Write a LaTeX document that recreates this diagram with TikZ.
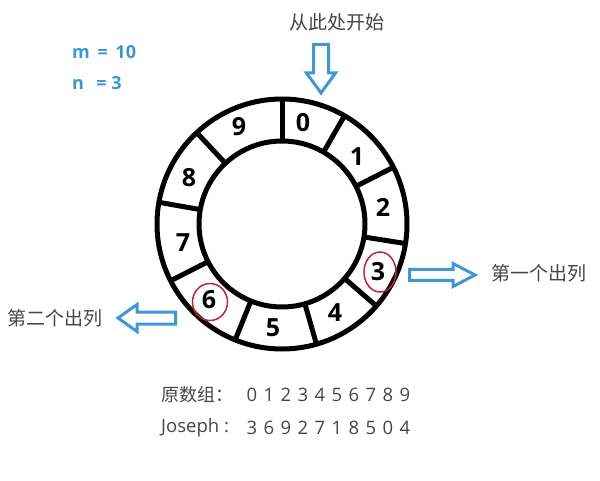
\documentclass[tikz,border=0pt]{standalone}
\usepackage{fontspec}
\setmainfont{Open Sans}
\newfontfamily\cjk{Noto Sans CJK SC}
\definecolor{arrowblue}{RGB}{66,150,212}
\definecolor{textblue}{RGB}{60,150,210}
\definecolor{markred}{RGB}{190,40,50}
\definecolor{labelgray}{RGB}{70,70,70}
\begin{document}
\begin{tikzpicture}[x=1pt,y=1pt,
  ring/.style={line width=5pt, draw=black},
  num/.style={font=\fontsize{25}{25}\selectfont\bfseries, inner sep=0pt},
  hollow/.style={draw=arrowblue, line width=3pt, line join=miter, fill=white},
  markring/.style={draw=markred, line width=1.5pt},
  cjklabel/.style={font=\cjk\fontsize{19}{19}\selectfont, text=labelgray, inner sep=0pt},
  param/.style={font=\fontsize{18}{18}\selectfont\bfseries, text=textblue, inner sep=0pt, anchor=west},
  bottomtext/.style={font=\fontsize{18.5}{18.5}\selectfont, text=labelgray, inner sep=0pt},
  bottomcjk/.style={font=\cjk\fontsize{18}{18}\selectfont, text=labelgray, inner sep=0pt, anchor=west}
]
\useasboundingbox (0,0) rectangle (600,480);
\fill[white] (0,0) rectangle (600,480);

% ring
\coordinate (C) at (282,256);
\draw[ring] (C) circle (125);
\draw[ring] (C) circle (83);
\foreach \a in {90,60,27,-9,-41,-74,-112,-153,170,133}
  \draw[ring] (C) ++(\a:83) -- ++(\a:42);

% numbers
\node[num] (n0) at (303,357) {0};
\node[num] (n1) at (357,323) {1};
\node[num] (n2) at (383,273) {2};
\node[num] (n3) at (378,208) {3};
\node[num] (n4) at (335,167) {4};
\node[num] (n5) at (273,152) {5};
\node[num] (n6) at (209,180) {6};
\node[num] (n7) at (183,237) {7};
\node[num] (n8) at (189,302) {8};
\node[num] (n9) at (239,353) {9};

% red marks
\draw[markring] ([shift={(2,0)}]n3.center) ellipse (16 and 20);
\draw[markring] ([shift={(1,-2)}]n6.center) ellipse (17.5 and 18.5);

% blue hollow arrows
\draw[hollow] (313.5,435.5) -- (328.5,435.5) -- (328.5,407) -- (335.5,407)
  -- (321,387) -- (306.5,407) -- (313.5,407) -- cycle;
\draw[hollow] (409.5,199.5) -- (453,199.5) -- (453,193.5) -- (475,205)
  -- (453,216.5) -- (453,210.5) -- (409.5,210.5) -- cycle;
\draw[hollow] (118,162) -- (137,175.5) -- (137,168) -- (175.5,168)
  -- (175.5,156) -- (137,156) -- (137,148.5) -- cycle;

% labels
\node[cjklabel] (start) at (337,458) {从此处开始};
\node[cjklabel] (first) at (539,207) {第一个出列};
\node[cjklabel] (second) at (55,162) {第二个出列};
\node[param] (m) at (72,428) {m\ \,=\ \,10};
\node[param] (n) at (72,397) {n\ \ \,=\ 3};

% bottom rows
\node[bottomcjk] (orig) at (161,85) {原数组：};
\foreach \d [count=\i from 0] in {0,1,2,3,4,5,6,7,8,9}
  \node[bottomtext] (o\i) at (252+17*\i,85) {\d};
\node[bottomtext, anchor=west] (jos) at (161,52) {Joseph :};
\foreach \d [count=\i from 0] in {3,6,9,2,7,1,8,5,0,4}
  \node[bottomtext] (j\i) at (252+17*\i,52) {\d};
\end{tikzpicture}
\end{document}
